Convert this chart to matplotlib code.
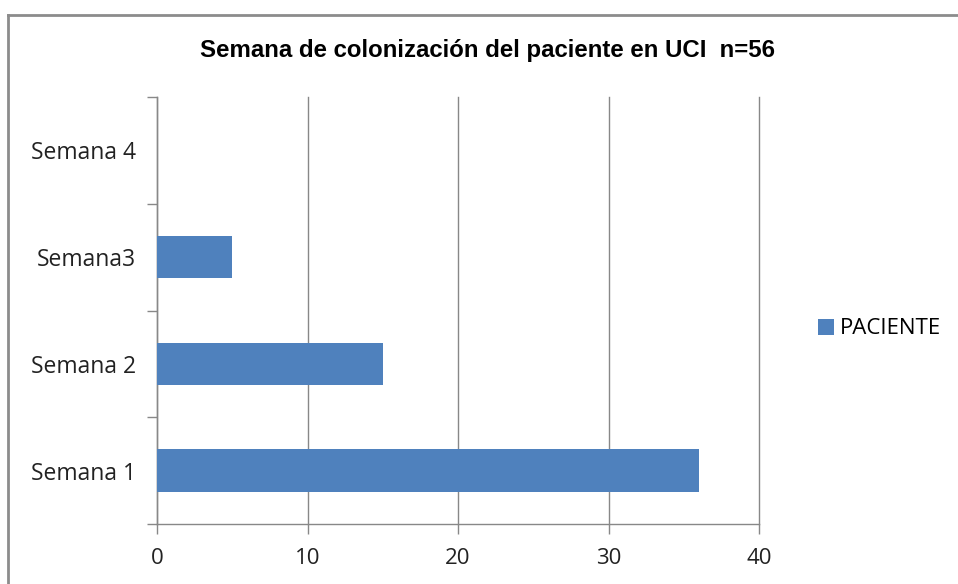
import matplotlib
matplotlib.use("Agg")
import matplotlib.pyplot as plt
from matplotlib.lines import Line2D
from matplotlib.patches import Patch

# datos
semanas = ["Semana 1", "Semana 2", "Semana3", "Semana 4"]
pacientes = [36, 15, 5, 0]
serie = "PACIENTE"
titulo = "Semana de colonización del paciente en UCI  n=56"

azul = "#4F81BD"
gris = "#888888"

fig = plt.figure(figsize=(9.58, 5.84), dpi=100)
ax = fig.add_axes([157 / 958, 60 / 584, 602 / 958, 427 / 584])

pos = list(range(len(semanas)))
ax.barh(pos, pacientes, height=0.4, color=azul, zorder=3)

ax.set_xlim(0, 40)
ax.set_ylim(-0.5, len(semanas) - 0.5)
ax.set_xticks([0, 10, 20, 30, 40])
ax.xaxis.grid(True, color=gris, linewidth=1)
for g in ax.get_xgridlines():
    g.set_clip_on(False)
ax.set_axisbelow(True)

# marcas en los limites de categoria, etiquetas en el centro
ax.set_yticks([p - 0.5 for p in pos] + [len(semanas) - 0.5])
ax.set_yticklabels([])
ax.set_yticks(pos, minor=True)
ax.set_yticklabels(semanas, minor=True, fontsize=16.5, family="Open Sans", color="#222222")
ax.tick_params(axis="y", which="minor", length=0, pad=15)
ax.tick_params(axis="y", which="major", length=7, color=gris, width=1)
ax.tick_params(axis="x", length=7, color=gris, width=1, labelsize=16, pad=10, labelcolor="#222222")
for lab in ax.get_xticklabels():
    lab.set_family("Open Sans")

for s in ["top", "right"]:
    ax.spines[s].set_visible(False)
for s in ["left", "bottom"]:
    ax.spines[s].set_color(gris)
    ax.spines[s].set_linewidth(1)

fig.text(487 / 958, 1 - 51 / 584, titulo, ha="center", va="center",
         fontsize=17.3, fontweight="bold", family="Liberation Sans")

fig.legend(handles=[Patch(facecolor=azul, label=serie)], loc="center left",
           bbox_to_anchor=(798 / 958, 1 - 329 / 584), frameon=False,
           prop={"family": "Open Sans", "size": 16}, handlelength=0.7,
           handleheight=0.7, handletextpad=0.3)

# marco del grafico (solo arriba e izquierda visibles)
fig.add_artist(Line2D([8 / 958, 1], [1 - 15 / 584, 1 - 15 / 584], color="#8c8c8c", linewidth=2))
fig.add_artist(Line2D([8 / 958, 8 / 958], [0, 1 - 15 / 584], color="#8c8c8c", linewidth=2))

fig.savefig("out.png", dpi=100)
